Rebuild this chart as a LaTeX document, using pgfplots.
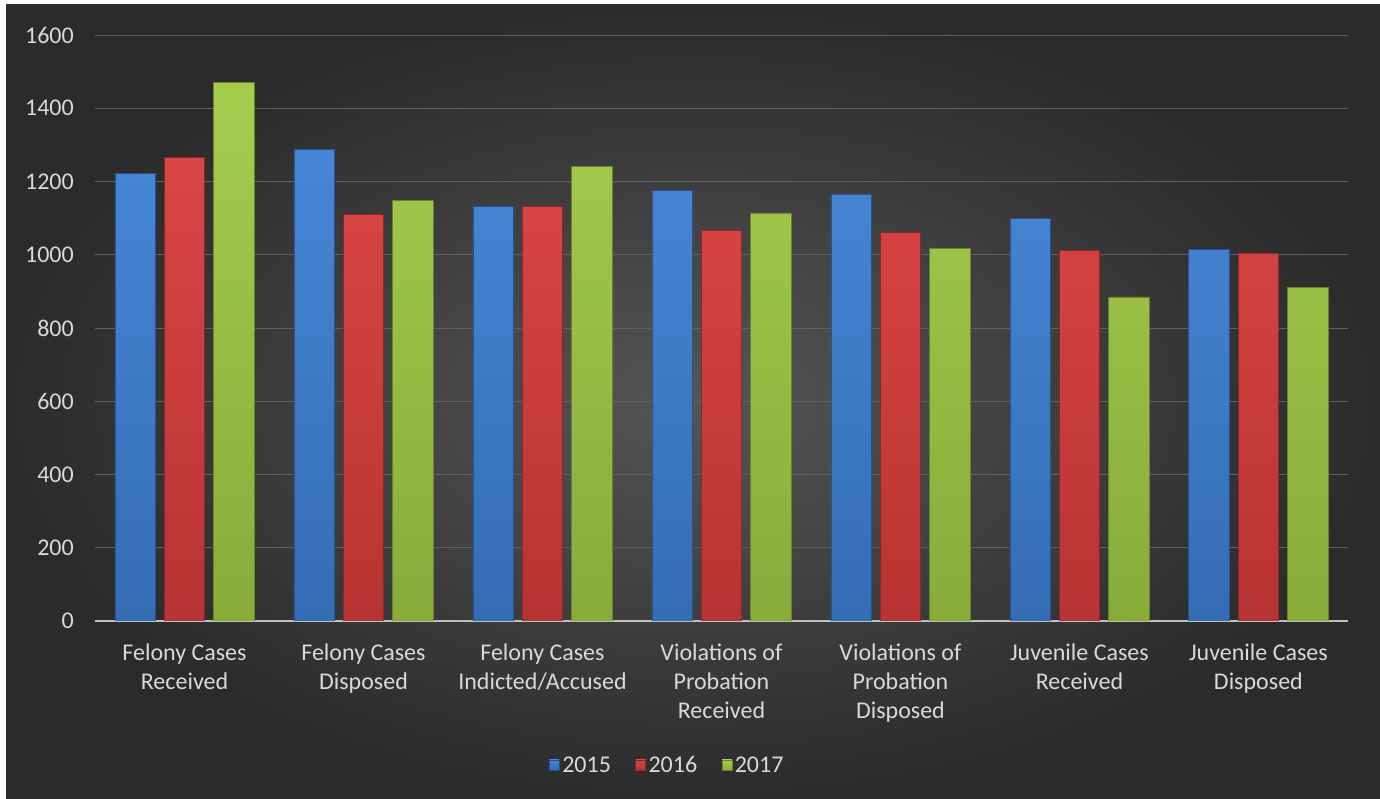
\documentclass[border=0pt]{standalone}
\usepackage{fontspec}
\setmainfont{Carlito}
\usepackage{pgfplots}
\pgfplotsset{compat=1.18}
\definecolor{bgin}{HTML}{555555}
\definecolor{bgout}{HTML}{2B2B2B}
\definecolor{txt}{HTML}{D9D9D9}
\definecolor{gridc}{HTML}{606060}
\definecolor{axc}{HTML}{BFBFBF}
\definecolor{cblue}{HTML}{3D80D4}
\definecolor{cred}{HTML}{D83C3C}
\definecolor{cgreen}{HTML}{A0CA44}
\begin{document}
\begin{tikzpicture}
\fill[white] (0pt,0pt) rectangle (1380pt,799pt);
\shade[inner color=bgin, outer color=bgout] (6pt,0pt) rectangle (1380pt,794pt);
\begin{axis}[
  at={(95pt,178pt)}, anchor=south west,
  scale only axis, width=1253pt, height=586pt,
  xmin=-0.5, xmax=6.5, ymin=0, ymax=1600,
  ytick={0,200,...,1600},
  xtick={0,1,2,3,4,5,6},
  xticklabels={{Felony Cases\\Received},{Felony Cases\\Disposed},{Felony Cases\\Indicted/Accused},{Violations of\\Probation\\Received},{Violations of\\Probation\\Disposed},{Juvenile Cases\\Received},{Juvenile Cases\\Disposed}},
  axis x line*=bottom, axis y line*=left,
  x axis line style={-, draw=axc, line width=1.5pt},
  y axis line style={draw=none},
  major tick length=0pt,
  xtick style={draw=none}, ytick style={draw=none},
  ymajorgrids, grid style={draw=gridc, line width=0.8pt},
  /pgf/number format/assume math mode=true,
  /pgf/number format/1000 sep={},
  tick label style={font=\fontsize{24}{29}\selectfont, text=txt},
  yticklabel style={anchor=east, inner sep=0pt, xshift=-21pt},
  xticklabel style={anchor=north, inner sep=0pt, yshift=-23pt, align=center},
  legend columns=3,
  legend style={at={(0.457,-0.2457)}, anchor=center, draw=none, fill=none,
    font=\fontsize{24}{29}\selectfont, text=txt,
    /tikz/every even column/.append style={column sep=22pt},
    nodes={inner sep=2.5pt}},
  legend image code/.code={\fill[#1] (0pt,-5pt) rectangle (10pt,5pt);},
]
\addplot[ybar, bar width=0.226, bar shift=-0.276, draw=cblue!65!black, line width=0.6pt, top color=cblue!95!white, bottom color=cblue!85!black]
  coordinates {(0,1222) (1,1287) (2,1131) (3,1176) (4,1166) (5,1099) (6,1015)};
\addplot[ybar, bar width=0.226, bar shift=0, draw=cred!65!black, line width=0.6pt, top color=cred!95!white, bottom color=cred!85!black]
  coordinates {(0,1265) (1,1110) (2,1131) (3,1068) (4,1061) (5,1011) (6,1005)};
\addplot[ybar, bar width=0.226, bar shift=0.276, draw=cgreen!65!black, line width=0.6pt, top color=cgreen!95!white, bottom color=cgreen!85!black]
  coordinates {(0,1471) (1,1148) (2,1242) (3,1114) (4,1018) (5,885) (6,910)};
\legend{2015,2016,2017}
\end{axis}
\end{tikzpicture}
\end{document}
